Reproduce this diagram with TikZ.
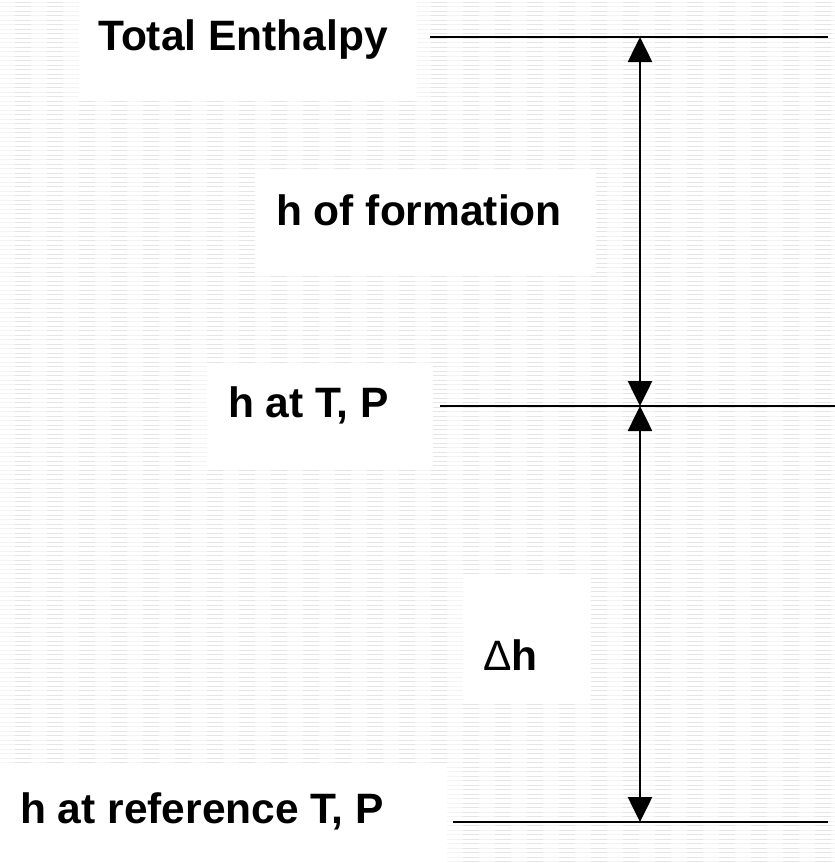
\documentclass[tikz,border=0pt]{standalone}
\usepackage{fontspec}
\setmainfont{Liberation Sans}
\usetikzlibrary{arrows.meta}
\tikzset{
  lvl/.style={line width=2.6pt},
  span/.style={line width=2.6pt,{Triangle[width=24pt,length=25pt]}-{Triangle[width=24pt,length=25pt]}},
  lbl/.style={anchor=base west,inner sep=0pt,font=\fontsize{42.5}{48}\selectfont\bfseries},
}
\begin{document}
\begin{tikzpicture}[x=1pt,y=-1pt]
\useasboundingbox (0,0) rectangle (835,863);
% hatched backdrop
\foreach \y in {2,6.5,...,863} {
  \draw[gray!9,line width=1pt] (0,\y) -- (835,\y);
  \draw[gray!20,line width=1pt,dash pattern=on 16pt off 16pt,dash phase=17pt] (0,\y) -- (835,\y);
}
% white patches behind the labels
\fill[white] (79,0) rectangle (417,100);
\fill[white] (255,173) rectangle (596,273);
\fill[white] (207,363) rectangle (433,467);
\fill[white] (463,575) rectangle (591,703);
\fill[white] (0,766) rectangle (447,863);
% labels
\node[lbl] (total) at (98,50) {Total Enthalpy};
\node[lbl] (form) at (276,225) {h of formation};
\node[lbl] (tp) at (228,417) {h at T, P};
\node[lbl] (dh) at (483,670) {{\mdseries Δ}h};
\node[lbl] (ref) at (20,823) {h at reference T, P};
% levels
\coordinate (t1) at (430,37);
\coordinate (t2) at (828,37);
\coordinate (m1) at (440,406);
\coordinate (m2) at (835,406);
\coordinate (b1) at (453,822);
\coordinate (b2) at (828,822);
\draw[lvl] (t1) -- (t2);
\draw[lvl] (m1) -- (m2);
\draw[lvl] (b1) -- (b2);
% gaps between levels
\coordinate (top) at (640,37);
\coordinate (mid) at (640,406);
\coordinate (bot) at (640,822);
\draw[span] (top) -- (mid);
\draw[span] (mid) -- (bot);
\end{tikzpicture}
\end{document}
